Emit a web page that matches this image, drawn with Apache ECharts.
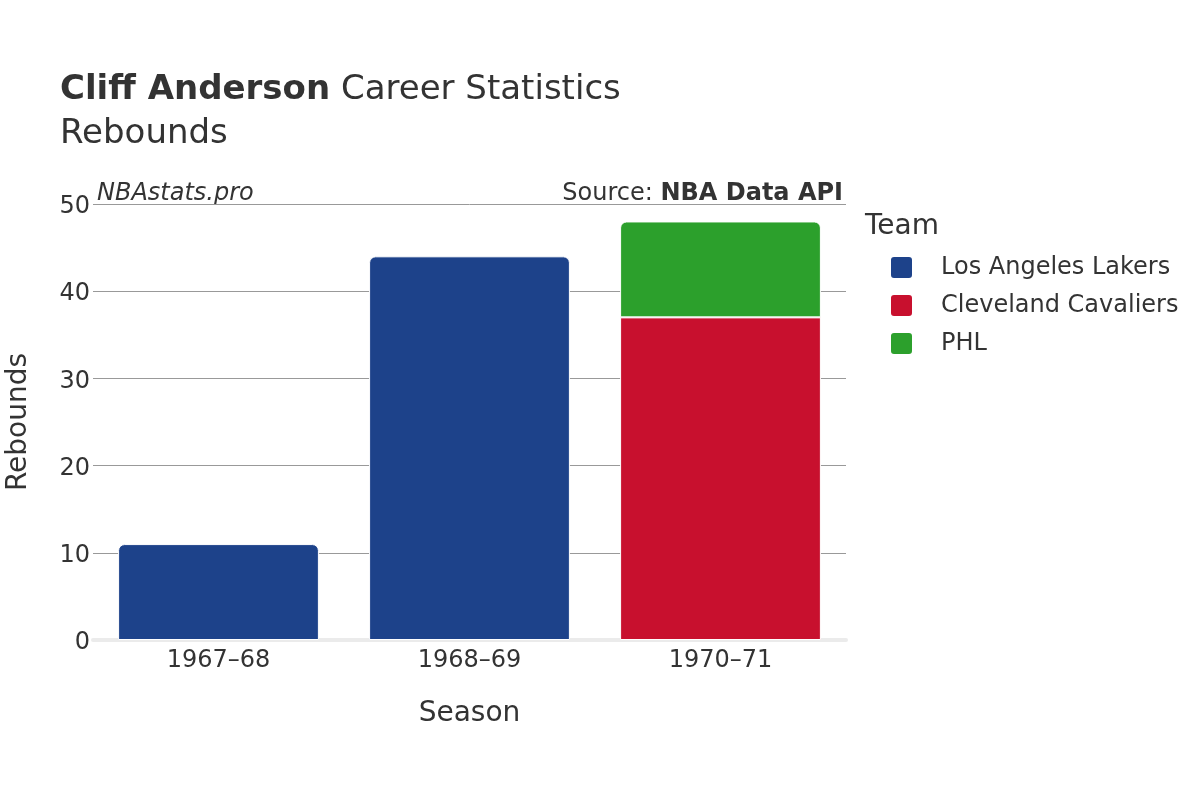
<!DOCTYPE html>
<html>
<head>
<meta charset="utf-8">
<script src="https://cdn.jsdelivr.net/npm/echarts@6/dist/echarts.min.js"></script>
<style>html,body{margin:0;padding:0;background:#fff}#c{width:1200px;height:800px}</style>
</head>
<body>
<div id="c"></div>
<script>
const seasons = ['1967\u201368', '1968\u201369', '1970\u201371'];
const lakers = [11, 44, null];
const cavaliers = [null, null, 37];
const phl = [null, null, 11];
const teams = ['Los Angeles Lakers', 'Cleveland Cavaliers', 'PHL'];
const colors = ['#1d428a', '#c8102e', '#2ca02c'];
const yTicks = [0, 10, 20, 30, 40, 50];

const FONT = 'DejaVu Sans';
const chart = echarts.init(document.getElementById('c'));
function barSeries(name, data, color, radius) {
  return {
    name: name, type: 'bar', stack: 'total', data: data,
    barCategoryGap: '20%',
    itemStyle: { color: color, borderRadius: radius, borderColor: '#fff', borderWidth: 1 },
    emphasis: { disabled: true }
  };
}
chart.setOption({
  animation: false,
  textStyle: { fontFamily: FONT },
  grid: { left: 93, right: 354, top: 204, bottom: 160, containLabel: false, outerBoundsMode: 'none' },
  title: [
    { text: '{b|Cliff Anderson} Career Statistics', left: 55, top: 68,
      textStyle: { fontFamily: FONT, fontSize: 34, fontWeight: 'normal', color: '#333',
        rich: { b: { fontFamily: FONT, fontSize: 34, fontWeight: 'bold', color: '#333' } } } },
    { text: 'Rebounds', left: 55, top: 112,
      textStyle: { fontFamily: FONT, fontSize: 34, fontWeight: 'normal', color: '#333' } }
  ],
  graphic: [
    { type: 'text', left: 97, top: 182, style: { text: 'NBAstats.pro', font: 'italic 24px "DejaVu Sans"', fill: '#333' } },
    { type: 'text', right: 357, top: 182, style: { text: '{n|Source: }{b|NBA Data API}', fill: '#333',
      rich: { n: { fontFamily: FONT, fontSize: 24, fill: '#333' }, b: { fontFamily: FONT, fontSize: 24, fontWeight: 'bold', fill: '#333' } } } },
    { type: 'text', left: 865, top: 213, style: { text: 'Team', font: '28px "DejaVu Sans"', fill: '#333' } }
  ],
  legend: {
    orient: 'vertical', left: 884, top: 250, itemWidth: 23, itemHeight: 23, itemGap: 13,
    icon: 'path://M4,0 H19 A4,4 0 0 1 23,4 V19 A4,4 0 0 1 19,23 H4 A4,4 0 0 1 0,19 V4 A4,4 0 0 1 4,0 Z',
    data: teams,
    textStyle: { fontFamily: FONT, fontSize: 24, color: '#333', padding: [0, 0, 0, 23] },
    selectedMode: false
  },
  xAxis: {
    type: 'category', data: seasons,
    name: 'Season', nameLocation: 'middle', nameGap: 60,
    nameTextStyle: { fontFamily: FONT, fontSize: 28, color: '#333' },
    axisLine: { show: true, lineStyle: { color: '#ebebeb', width: 4 } },
    axisTick: { show: false },
    axisLabel: { fontFamily: FONT, fontSize: 24, color: '#333', margin: 9 }
  },
  yAxis: {
    type: 'value', min: 0, max: 50, interval: 10,
    name: 'Rebounds', nameLocation: 'middle', nameGap: 60,
    nameTextStyle: { fontFamily: FONT, fontSize: 28, color: '#333' },
    axisLine: { show: false }, axisTick: { show: false },
    axisLabel: { color: '#333', margin: 3,
      formatter: v => yTicks.includes(v) ? '{t|' + v + '}' : '',
      rich: { t: { fontFamily: FONT, fontSize: 24, color: '#333', padding: [6, 0, 0, 0] } } },
    splitLine: { lineStyle: { color: '#999', width: 1 } }
  },
  series: [
    barSeries(teams[0], lakers, colors[0], [6, 6, 0, 0]),
    barSeries(teams[1], cavaliers, colors[1], [0, 0, 0, 0]),
    barSeries(teams[2], phl, colors[2], [6, 6, 0, 0])
  ]
});
</script>
</body>
</html>
